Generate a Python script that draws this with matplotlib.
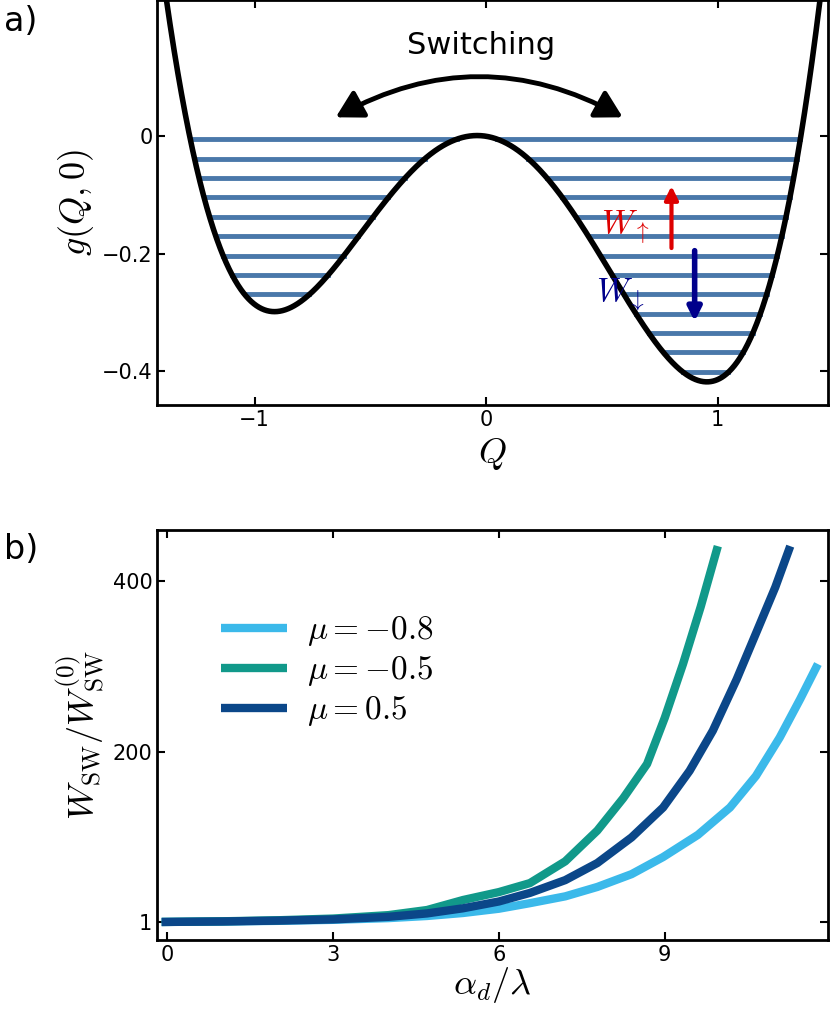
import numpy as np
import matplotlib
matplotlib.use("Agg")
import matplotlib.pyplot as plt
from matplotlib.patches import FancyArrowPatch

# Panel a: potential parameters
quartic, quad, tilt = 0.47, 0.82, -0.064
level_step = 0.033
n_levels = 13

# Panel b data
xb = {
    "light": [-0.1, 1, 2, 3, 4, 4.7, 5.35, 6.0, 6.56, 7.2, 7.78, 8.4, 8.97, 9.6, 10.18, 10.65, 11.08, 11.45, 11.77],
    "green": [-0.1, 1, 2, 3, 4, 4.7, 5.35, 6.0, 6.56, 7.2, 7.78, 8.25, 8.68, 9.0, 9.33, 9.65, 9.96],
    "dark": [-0.1, 1, 2, 3, 4, 4.7, 5.35, 6.0, 6.56, 7.2, 7.78, 8.4, 8.97, 9.45, 9.87, 10.3, 10.67, 11.0, 11.27],
}
yb = {
    "light": [1, 1.5, 2.3, 3.5, 5.5, 8, 11.5, 16.5, 23, 31, 42, 57, 77, 103, 135, 172, 217, 262, 303],
    "green": [1, 1.8, 3, 5, 9, 15, 26.7, 36, 46.5, 72, 108, 146, 186, 240, 303, 370, 441],
    "dark": [1, 1.6, 2.6, 4, 7, 11, 17, 25, 35, 50, 70, 100, 135, 178, 225, 285, 342, 393, 441],
}
labels = {"light": r"$\mu=-0.8$", "green": r"$\mu=-0.5$", "dark": r"$\mu=0.5$"}
colors = {"light": "#3bb9ea", "green": "#11998a", "dark": "#0b4789"}

plt.rcParams["mathtext.fontset"] = "cm"
fig = plt.figure(figsize=(8.32, 10.34), dpi=100)

def g(q):
    return quartic * q**4 - quad * q**2 + tilt * q

ax = fig.add_axes([0.189, 0.608, 0.806, 0.392])
Q = np.linspace(-1.6, 1.6, 2000)
ax.plot(Q, g(Q), color="k", lw=4, zorder=3)
for k in range(n_levels):
    E = -0.005 - k * level_step
    mask = g(Q) <= E
    idx = np.where(mask)[0]
    if len(idx) == 0:
        continue
    breaks = np.where(np.diff(idx) > 1)[0]
    starts = np.r_[idx[0], idx[breaks + 1]]
    ends = np.r_[idx[breaks], idx[-1]]
    for s, e in zip(starts, ends):
        ax.plot([Q[s], Q[e]], [E, E], color="#4a78aa", lw=3.5, zorder=2)
ax.set_xlim(-1.42, 1.475)
ax.set_ylim(-0.458, 0.232)
ax.set_xticks([-1, 0, 1]); ax.set_xticklabels(["\u22121", "0", "1"])
ax.set_yticks([0, -0.2, -0.4]); ax.set_yticklabels(["0", "\u22120.2", "\u22120.4"])
ax.set_xlabel(r"$Q$", fontsize=26)
ax.set_ylabel(r"$g(Q,0)$", fontsize=26)
arr = FancyArrowPatch((-0.66, 0.03), (0.6, 0.03), connectionstyle="arc3,rad=-0.28",
                      arrowstyle="<|-|>,head_length=16,head_width=9", lw=3.5, color="k",
                      mutation_scale=1, zorder=4)
ax.add_patch(arr)
ax.text(-0.02, 0.155, "Switching", fontsize=22, ha="center", va="center")
ax.annotate("", xy=(0.8, -0.08), xytext=(0.8, -0.195),
            arrowprops=dict(arrowstyle="-|>,head_length=0.8,head_width=0.4", color="#dd0000", lw=3), zorder=5)
ax.annotate("", xy=(0.9, -0.32), xytext=(0.9, -0.19),
            arrowprops=dict(arrowstyle="-|>,head_length=0.8,head_width=0.4", color="#00008b", lw=4), zorder=5)
ax.text(0.6, -0.155, r"$W_{\uparrow}$", color="#dd0000", fontsize=24, ha="center", va="center")
ax.text(0.58, -0.27, r"$W_{\downarrow}$", color="#00008b", fontsize=24, ha="center", va="center")

bx = fig.add_axes([0.189, 0.091, 0.806, 0.3965])
for key in ["light", "green", "dark"]:
    bx.plot(xb[key], yb[key], color=colors[key], lw=6, label=labels[key],
            solid_capstyle="butt", solid_joinstyle="round")
bx.set_xlim(-0.18, 11.95)
bx.set_ylim(-20, 460)
bx.set_xticks([0, 3, 6, 9])
bx.set_yticks([1, 200, 400])
bx.set_xlabel(r"$\alpha_d/\lambda$", fontsize=26, labelpad=0)
bx.set_ylabel(r"$W_{\mathrm{SW}}/W_{\mathrm{SW}}^{(0)}$", fontsize=26)
bx.legend(loc="upper left", bbox_to_anchor=(0.05, 0.87), fontsize=24, frameon=False,
          handlelength=2.0, labelspacing=0.15, handletextpad=0.6)

for a in (ax, bx):
    a.tick_params(direction="in", labelsize=15, width=1.5, length=6, top=True, right=True)
    for s in a.spines.values():
        s.set_linewidth(2)

fig.text(0.005, 0.995, "a)", fontsize=24, va="top")
fig.text(0.005, 0.485, "b)", fontsize=24, va="top")
fig.savefig("out.png", dpi=100)
